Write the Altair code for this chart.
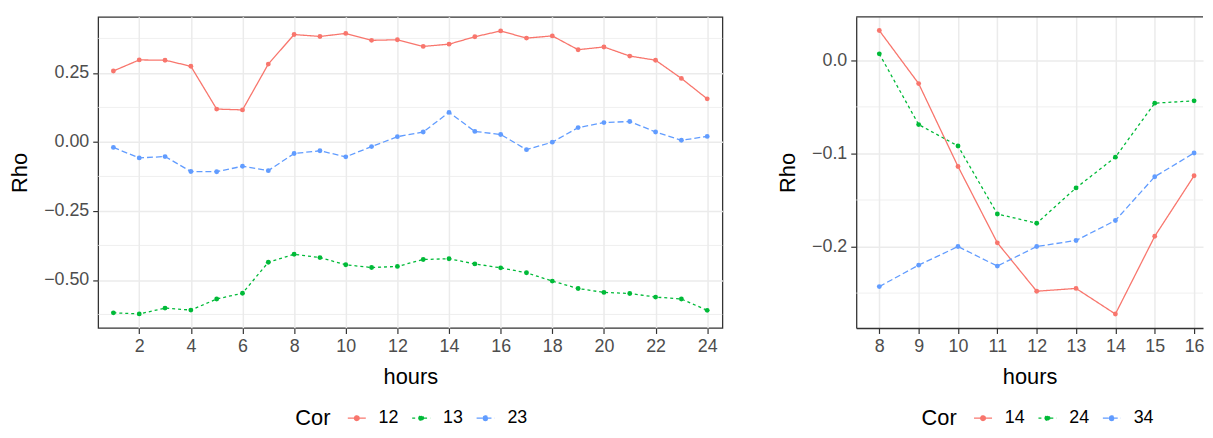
import altair as alt
import pandas as pd

# ---------------- data ----------------
hours_left = list(range(1, 25))
cats_left = ["12", "13", "23"]
rho_12 = [0.257, 0.297, 0.296, 0.274, 0.119, 0.116, 0.282, 0.389, 0.382, 0.393, 0.368, 0.370,
          0.346, 0.354, 0.381, 0.402, 0.376, 0.384, 0.334, 0.344, 0.311, 0.296, 0.230, 0.156]
rho_13 = [-0.619, -0.623, -0.602, -0.609, -0.569, -0.548, -0.436, -0.407, -0.419, -0.445, -0.455, -0.451,
          -0.426, -0.423, -0.442, -0.456, -0.474, -0.504, -0.531, -0.545, -0.549, -0.562, -0.569, -0.610]
rho_23 = [-0.020, -0.058, -0.053, -0.107, -0.108, -0.088, -0.104, -0.042, -0.032, -0.054, -0.017, 0.019,
          0.036, 0.107, 0.038, 0.027, -0.028, -0.001, 0.052, 0.070, 0.074, 0.036, 0.006, 0.020]

hours_right = list(range(8, 17))
cats_right = ["14", "24", "34"]
rho_14 = [0.032, -0.025, -0.114, -0.196, -0.248, -0.245, -0.2725, -0.189, -0.124]
rho_24 = [0.007, -0.069, -0.092, -0.165, -0.175, -0.137, -0.104, -0.046, -0.0435]
rho_34 = [-0.243, -0.220, -0.200, -0.221, -0.200, -0.1935, -0.172, -0.125, -0.0995]

x_ticks_left = list(range(2, 25, 2))
x_ticks_right = list(range(8, 17))
y_ticks_left = [-0.5, -0.25, 0.0, 0.25]
y_ticks_right = [-0.2, -0.1, 0.0]
y_minor_left = [0.375, 0.125, -0.125, -0.375, -0.625]
y_minor_right = [-0.05, -0.15, -0.25]

colors = ["#F8766D", "#00BA38", "#619CFF"]
dashes = [[1, 0], [3, 3], [6, 3]]

FONT = "Liberation Sans"
FRAME = "#333333"
SYMBOL = "M-1,0L1,0M-0.26,0A0.26,0.26,0,1,0,0.26,0A0.26,0.26,0,1,0,-0.26,0Z"


def make_df(hours, cats, series):
    rows = []
    for c, vals in zip(cats, series):
        for h, v in zip(hours, vals):
            rows.append({"hours": h, "Rho": v, "Cor": c})
    return pd.DataFrame(rows)


def panel(df, cats, xdom, xvals, ydom, yvals, yfmt, yminor, width, lx, ly, open_right=False):
    axis_extra = {}
    if open_right:
        axis_extra = dict(domain=True, domainColor=FRAME, domainWidth=1.3)
    x = alt.X("hours:Q", scale=alt.Scale(domain=xdom, nice=False, zero=False),
              axis=alt.Axis(values=xvals, format="d", title="hours", **axis_extra))
    y = alt.Y("Rho:Q", scale=alt.Scale(domain=ydom, nice=False, zero=False),
              axis=alt.Axis(values=yvals, format=yfmt, title="Rho", **axis_extra))
    legend = alt.Legend(orient="none", legendX=lx, legendY=ly, direction="horizontal",
                        titleOrient="left", symbolType=SYMBOL, symbolSize=330,
                        symbolStrokeWidth=1.3, labelFontSize=18, titleFontSize=22,
                        titleFontWeight="normal", titleColor="black", labelColor="black",
                        labelFont=FONT, titleFont=FONT, columnPadding=10, labelOffset=12,
                        titlePadding=16, titleBaseline="middle", padding=0)
    color = alt.Color("Cor:N", scale=alt.Scale(domain=cats, range=colors), legend=legend)
    dash = alt.StrokeDash("Cor:N", scale=alt.Scale(domain=cats, range=dashes), legend=legend)

    minor = alt.Chart(pd.DataFrame({"Rho": yminor})).mark_rule(
        color="#EBEBEB", strokeWidth=0.8).encode(y=alt.Y("Rho:Q"))
    base = alt.Chart(df)
    lines = base.mark_line(strokeWidth=1.3).encode(x=x, y=y, color=color, strokeDash=dash)
    points = base.mark_point(filled=True, size=24, opacity=1).encode(x=x, y=y, color=color)
    layers = [minor, lines, points]
    if open_right:
        top = alt.Chart(pd.DataFrame({"Rho": [0]})).mark_rule(
            color=FRAME, strokeWidth=1.3).encode(y=alt.value(0))
        layers.append(top)
    ch = alt.layer(*layers).properties(width=width, height=314)
    if open_right:
        ch = ch.properties(view=alt.ViewBackground(stroke="transparent"))
    return ch


df_left = make_df(hours_left, cats_left, [rho_12, rho_13, rho_23])
df_right = make_df(hours_right, cats_right, [rho_14, rho_24, rho_34])

left = panel(df_left, cats_left, [0.41, 24.59], x_ticks_left, [-0.674, 0.453], y_ticks_left,
             ".2f", y_minor_left, 630, 199, 395)
right = panel(df_right, cats_right, [7.413, 16.227], x_ticks_right, [-0.2875, 0.0467], y_ticks_right,
              ".1f", y_minor_right, 350, 66, 395, open_right=True)

chart = alt.hconcat(left, right, spacing=52).resolve_scale(
    color="independent", strokeDash="independent", x="independent", y="independent"
).resolve_legend(color="independent", strokeDash="independent").properties(
    padding={"left": 0, "top": 5, "right": 0, "bottom": -2}
).configure_view(
    stroke=FRAME, strokeWidth=1.3
).configure_axis(
    domain=False, grid=True, gridColor="#EBEBEB", gridWidth=1.5,
    tickColor=FRAME, tickSize=5.5, tickWidth=1.2,
    labelColor="#4D4D4D", labelFont=FONT, labelFontSize=18, labelPadding=4,
    titleColor="black", titleFont=FONT, titleFontSize=22, titleFontWeight="normal",
    titlePadding=12
)

chart.save("out.html", embed_options={"renderer": "svg", "actions": False})
